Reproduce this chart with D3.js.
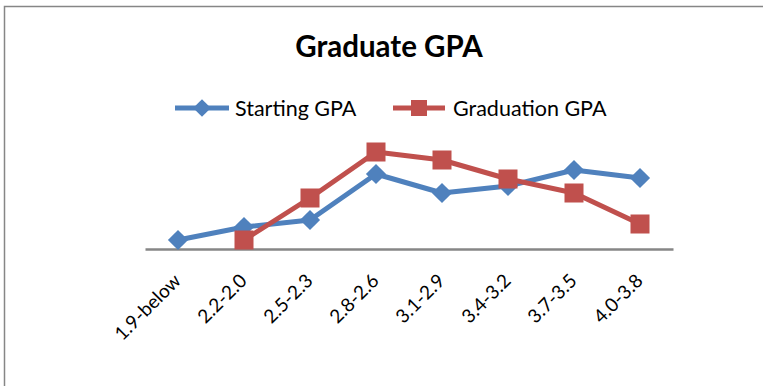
<!DOCTYPE html>
<html>
<head>
<meta charset="utf-8">
<script src="https://cdn.jsdelivr.net/npm/d3@7"></script>
<style>
  html, body { margin: 0; padding: 0; background: #fff; }
  svg { display: block; }
</style>
</head>
<body>
<script>
// ---- data ----
const categories = ["1.9-below", "2.2-2.0", "2.5-2.3", "2.8-2.6", "3.1-2.9", "3.4-3.2", "3.7-3.5", "4.0-3.8"];
const startingGPA = [0.9, 2.2, 2.9, 7.5, 5.6, 6.3, 7.9, 7.1];
const graduationGPA = [null, 0.9, 5.1, 9.7, 8.9, 7.0, 5.6, 2.5];
const seriesNames = ["Starting GPA", "Graduation GPA"];
const titleText = "Graduate GPA";

// ---- layout ----
const W = 763, H = 386;
const plot = { left: 145, right: 673, top: 129, bottom: 249 };
const blue = "#4F81BD", red = "#C0504D", axisGray = "#868686";
const font = "Lato, 'Open Sans', sans-serif";

const svg = d3.select("body").append("svg").attr("width", W).attr("height", H);

// chart border (extends beyond viewport on right/bottom)
svg.append("rect")
  .attr("x", 4.5).attr("y", 6.5).attr("width", W + 20).attr("height", H + 20)
  .attr("fill", "#fff").attr("stroke", axisGray).attr("stroke-width", 1.5);

// title
svg.append("text")
  .attr("x", 389).attr("y", 57)
  .attr("text-anchor", "middle")
  .attr("font-family", font).attr("font-weight", "bold").attr("font-size", 29.5)
  .attr("fill", "#000").text(titleText);

// scales
const x = d3.scaleBand().domain(categories).range([plot.left, plot.right]).padding(0);
const y = d3.scaleLinear().domain([0, 12]).range([plot.bottom, plot.top]);
const cx = d => x(d) + x.bandwidth() / 2;

// x axis
const xAxis = d3.axisBottom(x).tickSize(0).tickSizeOuter(0);
const gx = svg.append("g").attr("transform", `translate(0,${plot.bottom})`).call(xAxis);
gx.attr("font-size", null).attr("font-family", null);
gx.select(".domain").attr("stroke", axisGray).attr("stroke-width", 2.5);
gx.selectAll(".tick text")
  .style("font-family", font).style("font-size", "19px").attr("fill", "#000")
  .attr("text-anchor", "end")
  .attr("dy", null).attr("y", null)
  .attr("transform", "translate(4,33) rotate(-45)");

// series
const diamond = d3.symbol().type(d3.symbolDiamond2).size(260);
const line = d3.line()
  .defined(d => d.v !== null)
  .x(d => cx(d.c)).y(d => y(d.v));

function drawSeries(values, color, symbolFn) {
  const data = categories.map((c, i) => ({ c, v: values[i] }));
  svg.append("path").datum(data)
    .attr("d", line).attr("fill", "none")
    .attr("stroke", color).attr("stroke-width", 5).attr("stroke-linejoin", "round");
  const pts = data.filter(d => d.v !== null);
  symbolFn(svg.append("g").selectAll("g").data(pts).join("g")
    .attr("transform", d => `translate(${cx(d.c)},${y(d.v)})`));
}

drawSeries(startingGPA, blue, sel =>
  sel.append("path").attr("d", diamond).attr("fill", blue));
drawSeries(graduationGPA, red, sel =>
  sel.append("rect").attr("x", -9.5).attr("y", -9.5).attr("width", 19).attr("height", 19).attr("fill", red));

// legend
const legendY = 108;
const leg = [
  { name: seriesNames[0], color: blue, x1: 175, x2: 229, tx: 235, shape: "diamond" },
  { name: seriesNames[1], color: red, x1: 393, x2: 445, tx: 453, shape: "square" }
];
leg.forEach(l => {
  svg.append("line").attr("x1", l.x1).attr("x2", l.x2).attr("y1", legendY).attr("y2", legendY)
    .attr("stroke", l.color).attr("stroke-width", 5);
  const m = (l.x1 + l.x2) / 2;
  if (l.shape === "diamond") {
    svg.append("path").attr("d", d3.symbol().type(d3.symbolDiamond2).size(200)())
      .attr("transform", `translate(${m},${legendY})`).attr("fill", l.color);
  } else {
    svg.append("rect").attr("x", m - 8).attr("y", legendY - 8).attr("width", 16).attr("height", 16)
      .attr("fill", l.color);
  }
  svg.append("text").attr("x", l.tx).attr("y", legendY + 8)
    .attr("font-family", font).attr("font-size", 21.5).attr("fill", "#000").text(l.name);
});
</script>
</body>
</html>
